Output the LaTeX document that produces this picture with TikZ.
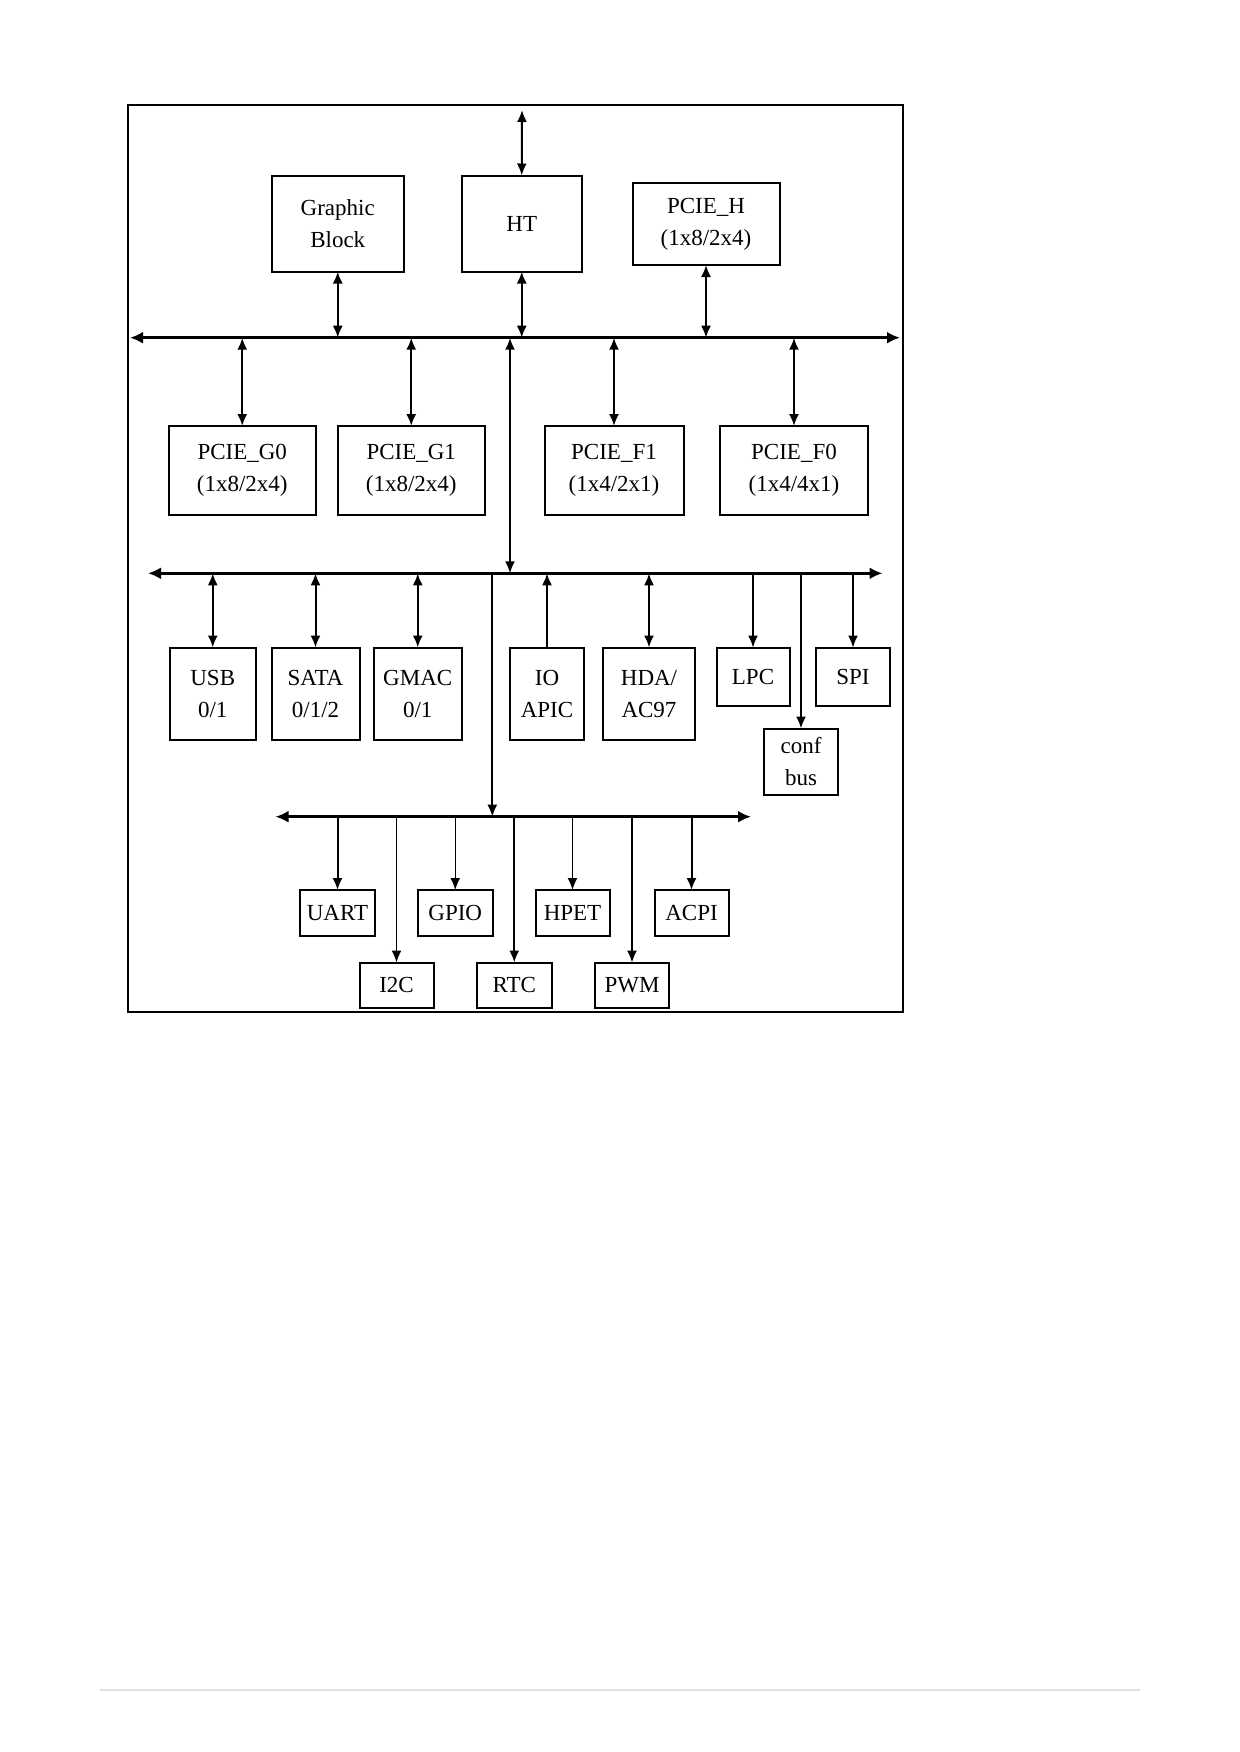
\documentclass[tikz,border=0pt]{standalone}
\usepackage{fontspec}
\setmainfont{Liberation Serif}
\usetikzlibrary{arrows.meta}
\newcommand\mybox[6]{%
  \pgfmathsetmacro\bxcx{(#2+#4)/2}%
  \pgfmathsetmacro\bxcy{(#3+#5)/2}%
  \pgfmathsetmacro\bxw{(#4-#2)*0.5}%
  \pgfmathsetmacro\bxh{(#5-#3)*0.5}%
  \node[box,minimum width=\bxw pt,minimum height=\bxh pt] (#1) at (\bxcx,\bxcy) {#6};}
\begin{document}
\begin{tikzpicture}[x=0.5pt,y=-0.5pt,
  box/.style={draw,line width=1pt,inner sep=0pt,outer sep=0pt,align=center,
    font=\fontsize{11.5pt}{16pt}\selectfont},
  bus/.style={line width=1.3pt,{Latex[length=6.5pt,width=6pt]}-{Latex[length=6.5pt,width=6pt]}},
  conn/.style={line width=1pt},
  thin conn/.style={line width=0.75pt},
  tip/.tip={Latex[length=6pt,width=5pt]}]
\useasboundingbox (0,0) rectangle (1239,1752);
\fill[white] (0,0) rectangle (1239,1752);
% outer frame
\draw[line width=1pt] (127.5,105) rectangle (903,1012);
% faint rule at page bottom
\draw[black!12,line width=0.8pt] (100,1690) -- (1140,1690);

% row 1
\mybox{gb}{271.5}{175.5}{404}{271.5}{Graphic\\Block}
\mybox{ht}{462}{175.5}{581.5}{271.5}{HT}
\mybox{pch}{632.5}{183}{779.5}{265}{PCIE\_H\\(1x8/2x4)}
% row 2
\mybox{pg0}{168.5}{426}{316}{515}{PCIE\_G0\\(1x8/2x4)}
\mybox{pg1}{338}{426}{484.5}{515}{PCIE\_G1\\(1x8/2x4)}
\mybox{pf1}{544.5}{426}{683.5}{515}{PCIE\_F1\\(1x4/2x1)}
\mybox{pf0}{720}{426}{868}{515}{PCIE\_F0\\(1x4/4x1)}
% row 3
\mybox{usb}{169.5}{647.5}{256}{740}{USB\\0/1}
\mybox{sata}{271.5}{647.5}{359.5}{740}{SATA\\0/1/2}
\mybox{gmac}{374}{647.5}{461.5}{740}{GMAC\\0/1}
\mybox{ioapic}{510}{647.5}{584}{740}{IO\\APIC}
\mybox{hda}{603}{647.5}{695}{740}{HDA/\\AC97}
\mybox{lpc}{716.5}{647.5}{789.5}{706}{LPC}
\mybox{spi}{816}{647.5}{890}{706}{SPI}
\mybox{conf}{764}{728.5}{838}{795}{conf\\bus}
% row 4
\mybox{uart}{300}{890}{375}{936}{UART}
\mybox{gpio}{418}{890}{492.5}{936}{GPIO}
\mybox{hpet}{535.5}{890}{609.5}{936}{HPET}
\mybox{acpi}{654.5}{890}{728.5}{936}{ACPI}
\mybox{itc}{359.5}{962.5}{433.5}{1008}{I2C}
\mybox{rtc}{477}{962.5}{551.5}{1008}{RTC}
\mybox{pwm}{595}{962.5}{669}{1008}{PWM}

% bus coordinates
\coordinate (b1l) at (130,337.7);
\coordinate (b1r) at (900,337.7);
\coordinate (b2l) at (148,573.3);
\coordinate (b2r) at (882.5,573.3);
\coordinate (b3l) at (275.5,816.7);
\coordinate (b3r) at (751,816.7);
\coordinate (httop) at (522,110);
\coordinate (l12a) at (510,337.7);
\coordinate (l12b) at (510,573.3);
\coordinate (l23a) at (492.3,573.3);
\coordinate (l23b) at (492.3,816.7);

\draw[bus] (b1l) -- (b1r);
\draw[bus] (b2l) -- (b2r);
\draw[bus] (b3l) -- (b3r);

% top connections
\draw[conn,tip-tip] (httop) -- (ht.north);
\draw[conn,tip-tip] (gb.south) -- (gb.south |- b1l);
\draw[conn,tip-tip] (ht.south) -- (ht.south |- b1l);
\draw[conn,tip-tip] (pch.south) -- (pch.south |- b1l);
\draw[conn,tip-tip] (pg0.north |- b1l) -- (pg0.north);
\draw[conn,tip-tip] (pg1.north |- b1l) -- (pg1.north);
\draw[conn,tip-tip] (pf1.north |- b1l) -- (pf1.north);
\draw[conn,tip-tip] (pf0.north |- b1l) -- (pf0.north);
\draw[conn,tip-tip] (l12a) -- (l12b);

% middle connections
\draw[conn,tip-tip] (usb.north |- b2l) -- (usb.north);
\draw[conn,tip-tip] (sata.north |- b2l) -- (sata.north);
\draw[conn,tip-tip] (gmac.north |- b2l) -- (gmac.north);
\draw[conn,-tip] (ioapic.north) -- (ioapic.north |- b2l);
\draw[conn,tip-tip] (hda.north |- b2l) -- (hda.north);
\draw[thin conn,-tip] (lpc.north |- b2l) -- (lpc.north);
\draw[conn,-tip] (conf.north |- b2l) -- (conf.north);
\draw[thin conn,-tip] (spi.north |- b2l) -- (spi.north);
\draw[conn,-tip] (l23a) -- (l23b);

% lower connections
\draw[conn,-tip] (uart.north |- b3l) -- (uart.north);
\draw[thin conn,-tip] (itc.north |- b3l) -- (itc.north);
\draw[thin conn,-tip] (gpio.north |- b3l) -- (gpio.north);
\draw[conn,-tip] (rtc.north |- b3l) -- (rtc.north);
\draw[thin conn,-tip] (hpet.north |- b3l) -- (hpet.north);
\draw[thin conn,-tip] (pwm.north |- b3l) -- (pwm.north);
\draw[conn,-tip] (acpi.north |- b3l) -- (acpi.north);
\end{tikzpicture}
\end{document}
